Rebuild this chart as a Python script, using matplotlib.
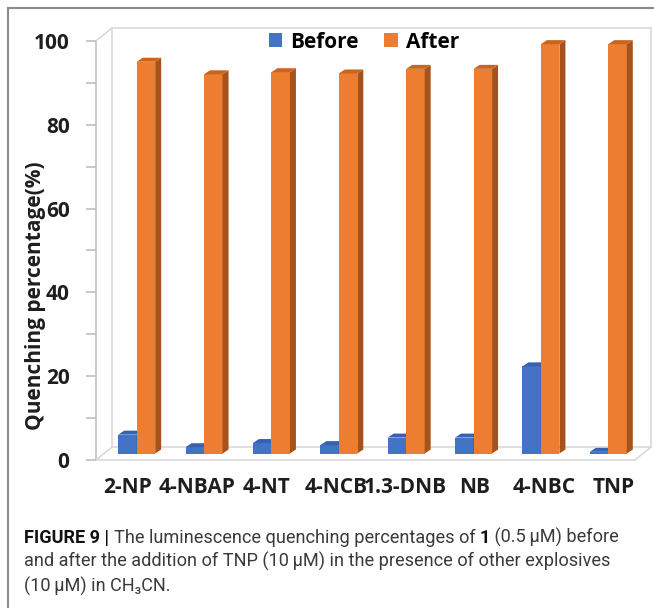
import numpy as np
import matplotlib
matplotlib.use("Agg")
import matplotlib.pyplot as plt
import matplotlib.transforms as mtransforms
from matplotlib.patches import Polygon, Patch
from matplotlib.lines import Line2D

# data
categories = ["2-NP", "4-NBAP", "4-NT", "4-NCB", "1.3-DNB", "NB", "4-NBC", "TNP"]
before = [4.5, 1.5, 2.5, 2.0, 3.8, 3.8, 20.8, 0.4]
after = [93.5, 90.5, 91.0, 90.7, 91.8, 91.8, 97.7, 97.7]
yticks = [0, 20, 40, 60, 80, 100]

W, H = 654, 608
fig = plt.figure(figsize=(W / 100, H / 100), dpi=100)

# front plane of the 3D excel-like chart, in pixels
left, right, top, bottom = 96, 635, 41, 460
ax = fig.add_axes([left / W, 1 - bottom / H, (right - left) / W, (bottom - top) / H])
ax.set_xlim(-0.5, len(categories) - 0.5)
ax.set_ylim(0, 100)

# pixel -> data unit conversions
ux = len(categories) / (right - left)
uy = 100 / (bottom - top)
D, DY = 16 * ux, 13 * uy          # depth of the box
mx, my = 7 * ux, 6.5 * uy         # bars sit in the middle of the depth
bw = 18.5 * ux                     # bar front width
sx, sy = 6 * ux, 4 * uy           # bar side / top depth

for s in ax.spines.values():
    s.set_visible(False)
ax.patch.set_alpha(0)

# box lines: floor and back wall
x0, x1 = -0.5, len(categories) - 0.5
gray = "#D9D9D9"
box = [
    ([x0, x0], [0, 100], "#BFBFBF"),
    ([x0, x0 + D], [100, 100 + DY], gray),
    ([x0 + D, x1 + D], [100 + DY, 100 + DY], gray),
    ([x0 + D, x0 + D], [DY, 100 + DY], gray),
    ([x1 + D, x1 + D], [DY, 100 + DY], gray),
    ([x0, x1], [0, 0], gray),
    ([x0, x0 + D], [0, DY], gray),
    ([x1, x1 + D], [0, DY], gray),
    ([x0 + D, x1 + D], [DY, DY], gray),
]
for xs, ys, c in box:
    ax.add_line(Line2D(xs, ys, color=c, lw=1.2, clip_on=False, zorder=1))


def bars3d(xpos, vals, front, side, topc):
    ax.bar(xpos, vals, width=bw, bottom=my, align="edge", color=front,
           edgecolor="none", zorder=3, clip_on=False)
    for xx, v in zip(xpos, vals):
        xa, xb, ya, yb = xx, xx + bw, my, my + v
        ax.add_patch(Polygon([(xb, ya), (xb + sx, ya + sy), (xb + sx, yb + sy), (xb, yb)],
                             closed=True, fc=side, ec="none", zorder=3, clip_on=False))
        ax.add_patch(Polygon([(xa, yb), (xb, yb), (xb + sx, yb + sy), (xa + sx, yb + sy)],
                             closed=True, fc=topc, ec="none", zorder=3, clip_on=False))


xs = np.arange(len(categories))
bars3d(xs + mx - bw, before, "#4472C4", "#2F5597", "#3762B0")
bars3d(xs + mx, after, "#ED7D31", "#A5531C", "#C8661F")

font = "Open Sans"
txt_c = "#1E1E1E"
ax.set_yticks(yticks)
ax.set_yticks(np.arange(10, 100, 20), minor=True)
ax.tick_params(axis="y", which="both", length=7, color="#BFBFBF", width=1.2,
               labelsize=15, labelcolor=txt_c, pad=12)
# excel spreads the category labels a little wider than the bars
ax.set_xticks(-0.03 + 1.03 * xs)
ax.set_xticklabels(categories)
ax.tick_params(axis="x", length=0, labelsize=15, labelcolor=txt_c, pad=12)
for lab in ax.get_xticklabels() + ax.get_yticklabels():
    lab.set_fontweight("bold")
    lab.set_family(font)

fig.text(36 / W, 1 - 296 / H, "Quenching percentage(%)", rotation=90,
         ha="center", va="center", fontsize=15, fontweight="bold",
         family=font, color=txt_c)

handles = [Patch(fc="#4472C4", label="Before"), Patch(fc="#ED7D31", label="After")]
fig.legend(handles=handles, loc="center", bbox_to_anchor=(364 / W, 1 - 42 / H),
           ncol=2, frameon=False, handlelength=0.65, handleheight=0.65,
           handletextpad=0.4, columnspacing=1.2,
           prop={"family": font, "weight": "bold", "size": 15})

# outer frame of the figure panel
fig.add_artist(Line2D([8 / W, 8 / W], [0, 1 - 8 / H], color="#8C8C8C", lw=1.5,
                      transform=fig.transFigure))
fig.add_artist(Line2D([8 / W, 1], [1 - 8 / H, 1 - 8 / H], color="#8C8C8C", lw=1.5,
                      transform=fig.transFigure))

# caption with mixed weights
cap_font = ["Roboto", "DejaVu Sans"]
cap_size = 13.1
lines = [
    [("FIGURE 9 | ", "bold", "#111111"),
     ("The luminescence quenching percentages of ", "normal", "#3A3A3A"),
     ("1", "bold", "#111111"),
     (" (0.5\u2009\u03bcM) before", "normal", "#3A3A3A")],
    [("and after the addition of TNP (10\u2009\u03bcM) in the presence of other explosives",
      "normal", "#3A3A3A")],
    [("(10\u2009\u03bcM) in CH\u2083CN.", "normal", "#3A3A3A")],
]
baselines = [543, 567, 592]
renderer = fig.canvas.get_renderer()
for parts, yb in zip(lines, baselines):
    x = 24
    for text, weight, c in parts:
        t = fig.text(x, H - yb, text, transform=mtransforms.IdentityTransform(),
                     fontsize=cap_size, fontweight=weight, family=cap_font,
                     color=c, va="baseline", ha="left")
        x += t.get_window_extent(renderer).width

fig.savefig("out.png", dpi=100)
